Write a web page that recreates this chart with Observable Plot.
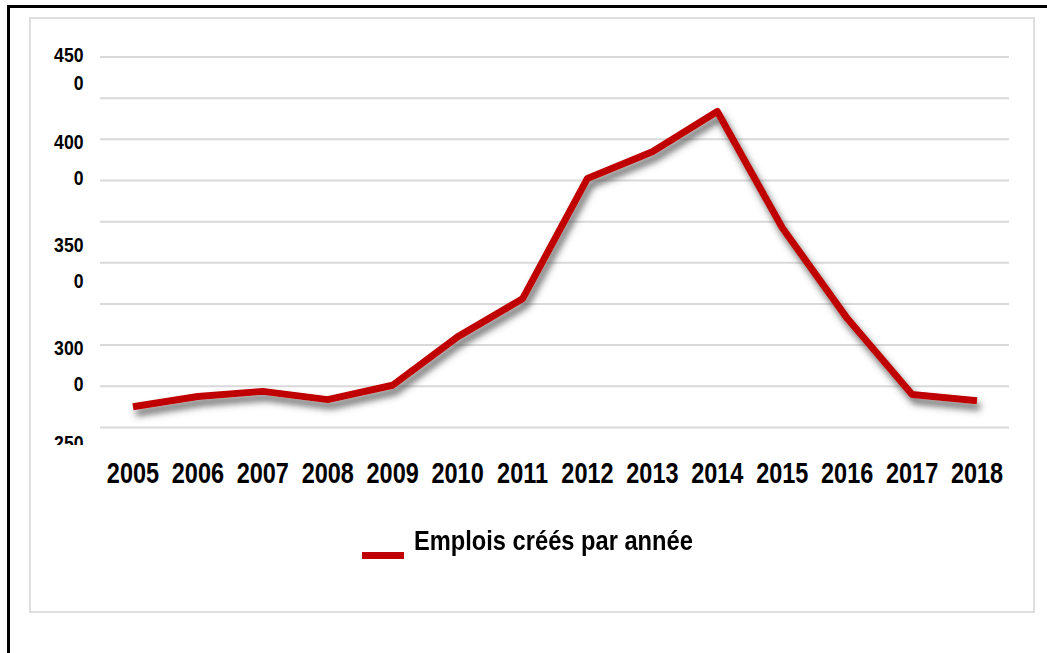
<!DOCTYPE html>
<html><head><meta charset="utf-8">
<script src="https://cdn.jsdelivr.net/npm/d3@7"></script>
<script src="https://cdn.jsdelivr.net/npm/@observablehq/plot@0.6"></script>
<style>
body{margin:0;background:#fff;width:1047px;height:653px;overflow:hidden;position:relative;font-family:"Liberation Sans",Arial,sans-serif;}
#outer{position:absolute;left:7px;top:5px;right:-10px;bottom:-10px;border-top:3px solid #000;border-left:3px solid #000;}
#box{position:absolute;left:29px;top:17px;width:1002px;height:592px;border:2px solid #dedede;}
#chart{position:absolute;left:0;top:0;}
#legend{position:absolute;left:362px;top:525px;height:40px;font-weight:bold;font-size:28px;color:#000;}
.sw{position:absolute;left:0;top:27px;width:42px;height:7px;background:#c00000;}
.lt{position:absolute;left:52px;top:0;white-space:nowrap;transform:scaleX(0.845);transform-origin:0 0;}
</style></head><body>
<div id="outer"></div>
<div id="box"></div>
<div id="chart"></div>
<div id="legend"><span class="sw"></span><span class="lt" id="legendText"></span></div>
<script>
const years = ["2005","2006","2007","2008","2009","2010","2011","2012","2013","2014","2015","2016","2017","2018"];
const emplois = [2800, 2850, 2875, 2835, 2905, 3140, 3325, 3910, 4040, 4235, 3670, 3230, 2860, 2830];
const yLabelTicks = [3000, 3500, 4000];
const yTopTick = [4500];
const yBottomTick = [2500];
const gridValues = [2700, 2900, 3100, 3300, 3500, 3700, 3900, 4100, 4300, 4500];
const seriesName = "Emplois créés par année";

document.getElementById("legendText").textContent = seriesName;

const data = years.map((y, i) => ({year: y, value: emplois[i]}));
const fmt = d => { const s = String(d); return s.slice(0, 3) + "\n" + s.slice(3); };

const W = 1047, H = 500, mt = 38, mb = 55, ml = 100, mr = 38;
const yAxisOpts = {tickSize: 0, tickPadding: 17, tickFormat: fmt, lineHeight: 1.71, fontSize: 21, fontWeight: "bold", label: null};

const plot = Plot.plot({
  width: W, height: H,
  marginTop: mt, marginBottom: mb, marginLeft: ml, marginRight: mr,
  style: {background: "transparent", fontFamily: '"Liberation Sans",Arial,sans-serif', color: "#000", overflow: "visible"},
  x: {type: "point", domain: years, padding: 0.5, round: false, label: null},
  y: {domain: [2612, 4590], label: null},
  marks: [
    Plot.ruleY(gridValues, {stroke: "#d9d9d9", strokeWidth: 2}),
    Plot.axisX({tickSize: 0, tickPadding: 17, fontSize: 29, fontWeight: "bold", label: null}),
    Plot.axisY(yLabelTicks, {...yAxisOpts, dy: -4}),
    Plot.axisY(yTopTick, {...yAxisOpts, lineHeight: 1.33, dy: 10}),
    Plot.axisY(yBottomTick, {...yAxisOpts, dy: -12}),
    Plot.line(data, {x: "year", y: "value", stroke: "#c00000", strokeWidth: 7, strokeLinejoin: "round", strokeLinecap: "butt"})
  ]
});
document.getElementById("chart").appendChild(plot);

const svg = d3.select(plot);

// condensed look for the tick labels (Calibri-like width)
svg.selectAll('g[aria-label="x-axis tick label"] text').each(function() {
  const t = this.getAttribute("transform") || "";
  this.setAttribute("transform", t + " scale(0.81,1)");
});
svg.selectAll('g[aria-label="y-axis tick label"] text').each(function() {
  const t = this.getAttribute("transform") || "";
  this.setAttribute("transform", t + " scale(0.84,1)");
});

// drop shadow on the line
const defs = svg.insert("defs", ":first-child");
const f = defs.append("filter").attr("id", "shadow").attr("x", "-5%").attr("y", "-20%").attr("width", "110%").attr("height", "140%");
f.append("feDropShadow").attr("dx", 3).attr("dy", 6).attr("stdDeviation", 3.5).attr("flood-color", "#444").attr("flood-opacity", 0.8);
svg.selectAll('g[aria-label="line"] path').attr("filter", "url(#shadow)");

// clip the bottom label to the plot frame bottom
const frameBottom = H - mb;
svg.selectAll('g[aria-label="y-axis tick label"]').each(function() {
  const texts = d3.select(this).selectAll("text").nodes();
  if (texts.length === 1 && texts[0].textContent.startsWith("250")) {
    const m = this.getCTM();
    const localBottom = (frameBottom - m.f) / m.d;
    defs.append("clipPath").attr("id", "clipBottom").attr("clipPathUnits", "userSpaceOnUse")
      .append("rect").attr("x", -1000).attr("y", -1000).attr("width", 3000).attr("height", localBottom + 1000);
    d3.select(this).attr("clip-path", "url(#clipBottom)");
  }
});
</script>
</body></html>
